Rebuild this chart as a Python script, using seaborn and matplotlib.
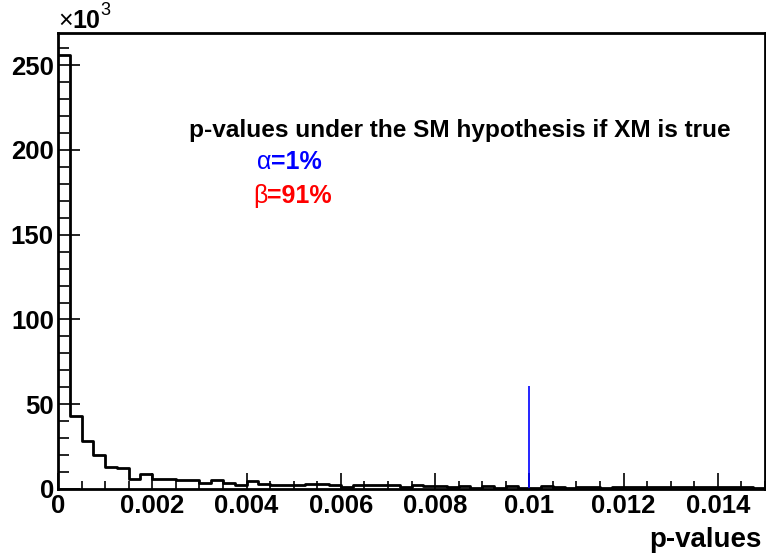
import matplotlib
matplotlib.use("Agg")
import matplotlib.pyplot as plt
import matplotlib.ticker as mticker
import numpy as np
import pandas as pd
import seaborn as sns

# ---- data (counts in units of 10^3) ----
bin_width = 0.00025
n_bins = 60
counts_k = [
    256.0, 43.0, 28.3, 20.3, 13.2, 12.2, 5.9, 8.7, 6.1, 5.7,
    5.3, 5.3, 3.3, 5.6, 3.6, 2.4, 4.8, 2.8, 2.5, 2.5,
    2.6, 2.7, 2.7, 2.6, 1.4, 2.4, 2.4, 2.3, 2.3, 1.3,
    2.1, 2.0, 2.0, 1.0, 1.8, 0.8, 1.6, 0.8, 1.5, 0.6,
    0.5, 1.5, 1.4, 0.8, 1.4, 1.3, 0.8, 1.3, 1.3, 1.0,
    1.3, 1.3, 0.9, 1.2, 1.3, 1.0, 1.2, 1.0, 1.1, 0.8,
]
alpha_value = 0.01
alpha_line_height_k = 61.0
x_ticks = [0, 0.002, 0.004, 0.006, 0.008, 0.01, 0.012, 0.014]
x_tick_labels = ["0", "0.002", "0.004", "0.006", "0.008", "0.01", "0.012", "0.014"]
y_ticks = [0, 50, 100, 150, 200, 250]
title_text = "p-values under the SM hypothesis if XM is true"
x_label = "p-values"

bin_edges = np.arange(n_bins + 1) * bin_width
bin_centers = (bin_edges[:-1] + bin_edges[1:]) / 2
df = pd.DataFrame({"p": bin_centers, "w": counts_k})

sns.set_theme(style="white")
plt.rcParams["font.family"] = ["Liberation Sans", "DejaVu Sans"]

fig = plt.figure(figsize=(7.66, 5.55), dpi=100)
ax = fig.add_axes([58 / 766, 1 - 489 / 555, 707 / 766, 456 / 555])

sns.histplot(data=df, x="p", weights="w", binwidth=bin_width,
             binrange=(0, n_bins * bin_width), element="step",
             fill=False, color="black", linewidth=2, ax=ax)

ax.vlines(alpha_value, 0, alpha_line_height_k, color="#0000ff", linewidth=1.2)

ax.set_xlim(0, 0.015)
ax.set_ylim(0, 269)
ax.set_xticks(x_ticks)
ax.set_xticklabels(x_tick_labels)
ax.set_yticks(y_ticks)
ax.xaxis.set_minor_locator(mticker.MultipleLocator(0.0005))
ax.yaxis.set_minor_locator(mticker.MultipleLocator(10))
ax.set_xlabel("")
ax.set_ylabel("")

ax.tick_params(axis="x", which="major", direction="in", length=11.5, width=1.2,
               color="black", labelsize=18.5, pad=3.5, bottom=True, top=False)
ax.tick_params(axis="x", which="minor", direction="in", length=5.8, width=1.2,
               color="black", bottom=True, top=False)
ax.tick_params(axis="y", which="major", direction="in", length=15.5, width=1.2,
               color="black", labelsize=18.5, pad=3, left=True, right=False)
ax.tick_params(axis="y", which="minor", direction="in", length=8, width=1.2,
               color="black", left=True, right=False)
for lab in ax.get_xticklabels() + ax.get_yticklabels():
    lab.set_fontweight("bold")
    lab.set_color("black")

for sp in ax.spines.values():
    sp.set_visible(True)
    sp.set_color("black")
    sp.set_linewidth(2)

# multiplier label
tx = ax.text(0.0, 1.0, "×", transform=ax.transAxes, ha="left", va="bottom",
             fontsize=18, color="black")
t10 = ax.annotate("10", xy=(1, 0), xycoords=tx, ha="left", va="bottom",
                  fontsize=18, fontweight="bold", color="black")
ax.annotate("3", xy=(1, 0.6), xycoords=t10, ha="left", va="bottom",
            fontsize=13, color="black")

# x label
fig.text(762 / 766, 1 - 540 / 555, x_label, ha="right", va="center",
         fontsize=20, fontweight="bold", color="black")

# annotations
ax.text((189 - 58) / 707, (489 - 130) / 456, title_text, transform=ax.transAxes,
        ha="left", va="center", fontsize=17.6, fontweight="bold", color="black")
ta = ax.text((257 - 58) / 707, (489 - 162) / 456, "α", transform=ax.transAxes,
             ha="left", va="center", fontsize=18, color="#0000ff")
ax.annotate("=1%", xy=(1, 0), xycoords=ta, ha="left", va="bottom",
            fontsize=18, fontweight="bold", color="#0000ff")
tb = ax.text((253 - 58) / 707, (489 - 196) / 456, "β", transform=ax.transAxes,
             ha="left", va="center", fontsize=18, color="#ff0000")
ax.annotate("=91%", xy=(1, 0), xycoords=tb, ha="left", va="bottom",
            fontsize=18, fontweight="bold", color="#ff0000")

fig.savefig("out.png", dpi=100, facecolor="white")
